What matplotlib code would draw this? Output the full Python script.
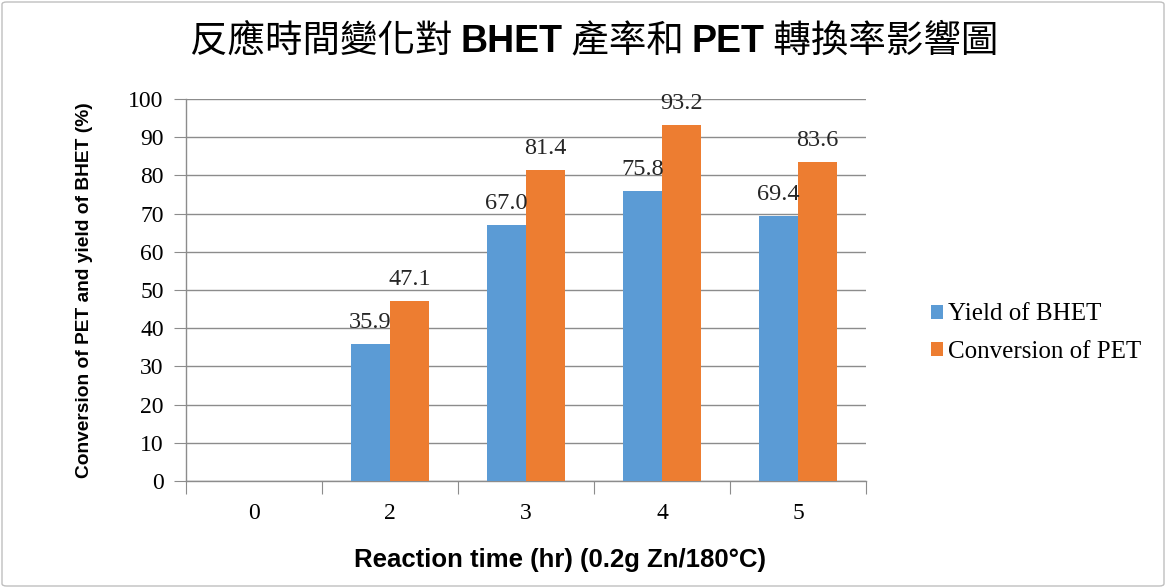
import matplotlib
import matplotlib.pyplot as plt
import numpy as np
from matplotlib.patches import FancyBboxPatch

matplotlib.rcParams["font.family"] = ["Liberation Serif", "DejaVu Serif"]

# data
categories = ["0", "2", "3", "4", "5"]
yield_bhet = [0, 35.9, 67.0, 75.8, 69.4]
conv_pet = [0, 47.1, 81.4, 93.2, 83.6]
yield_labels = [None, "35.9", "67.0", "75.8", "69.4"]
conv_labels = [None, "47.1", "81.4", "93.2", "83.6"]
series_names = ["Yield of BHET", "Conversion of PET"]
y_ticks = list(range(0, 101, 10))

blue = "#5B9BD5"
orange = "#ED7D31"
grid_c = "#8C8C8C"

W, H = 1166, 588
fig = plt.figure(figsize=(W / 100, H / 100), dpi=100)
ax = fig.add_axes([186 / W, 1 - 481 / H, (866 - 186) / W, (481 - 99) / H])

# outer chart border
fig.patches.append(
    FancyBboxPatch(
        (2 / W, 2 / H), (W - 4) / W, (H - 4) / H,
        boxstyle="round,pad=0,rounding_size=0.004",
        transform=fig.transFigure, fill=False, edgecolor="#BFBFBF", linewidth=1.0,
    )
)

x = np.arange(len(categories))
w = 0.287
b1 = ax.bar(x - w / 2, yield_bhet, w, color=blue, label=series_names[0], zorder=3)
b2 = ax.bar(x + w / 2, conv_pet, w, color=orange, label=series_names[1], zorder=3)

for bars, labels in ((b1, yield_labels), (b2, conv_labels)):
    for rect, lab in zip(bars, labels):
        if lab is None:
            continue
        ax.annotate(lab, (rect.get_x() + rect.get_width() / 2, rect.get_height()),
                    xytext=(0, 8), textcoords="offset points",
                    ha="center", va="bottom", fontsize=17.5, color="#262626")

ax.set_xlim(-0.5, len(categories) - 0.5)
ax.set_ylim(0, 100)
ax.set_yticks(y_ticks)
ax.set_yticklabels([str(t) for t in y_ticks], fontsize=17)
ax.set_xticks(np.arange(-0.5, len(categories), 1.0), minor=False)
ax.set_xticklabels([])
ax.set_xticks(x, minor=True)
ax.set_xticklabels(categories, minor=True, fontsize=17)
ax.tick_params(axis="x", which="major", length=9, color=grid_c, direction="out")
ax.tick_params(axis="x", which="minor", length=0, pad=16)
ax.tick_params(axis="y", length=9, color=grid_c, pad=7)
ax.yaxis.grid(True, color=grid_c, linewidth=1.0, zorder=0)
ax.set_axisbelow(True)
for side in ("top", "right"):
    ax.spines[side].set_visible(False)
for side in ("left", "bottom"):
    ax.spines[side].set_color(grid_c)
    ax.spines[side].set_linewidth(1.0)

ax.set_ylabel("Conversion of PET and yield of BHET (%)", family="Liberation Sans",
              fontweight="bold", fontsize=13.8)
ax.yaxis.set_label_coords(-0.137, 0.5)
ax.set_xlabel("Reaction time (hr) (0.2g Zn/180°C)", family="Liberation Sans",
              fontweight="bold", fontsize=18.5)
ax.xaxis.set_label_coords(0.55, -0.175)

fig.legend(handles=[b1, b2], labels=series_names, loc="center left",
           bbox_to_anchor=(908 / W, 1 - 333 / H), frameon=False, fontsize=18,
           handlelength=0.5, handleheight=0.5, handletextpad=0.2, labelspacing=0.6)

# title: CJK in regular weight, latin parts bold; pieces laid out side by side
pieces = [
    ("反應時間變化對 ", "normal", ["Noto Sans CJK TC"]),
    ("BHET", "bold", ["Liberation Sans"]),
    (" 產率和 ", "normal", ["Noto Sans CJK TC"]),
    ("PET", "bold", ["Liberation Sans"]),
    (" 轉換率影響圖", "normal", ["Noto Sans CJK TC"]),
]
renderer = fig.canvas.get_renderer()
title_texts = []
cursor = 0.0
for txt, wt, fam in pieces:
    t = fig.text(cursor, 1 - 52 / H, txt, fontsize=27, fontweight=wt, family=fam,
                 ha="left", va="baseline")
    cursor += t.get_window_extent(renderer).width / W
    title_texts.append(t)
start = 594 / W - cursor / 2
for t in title_texts:
    px, py = t.get_position()
    t.set_position((px + start, py))

fig.savefig("out.png", dpi=100)
